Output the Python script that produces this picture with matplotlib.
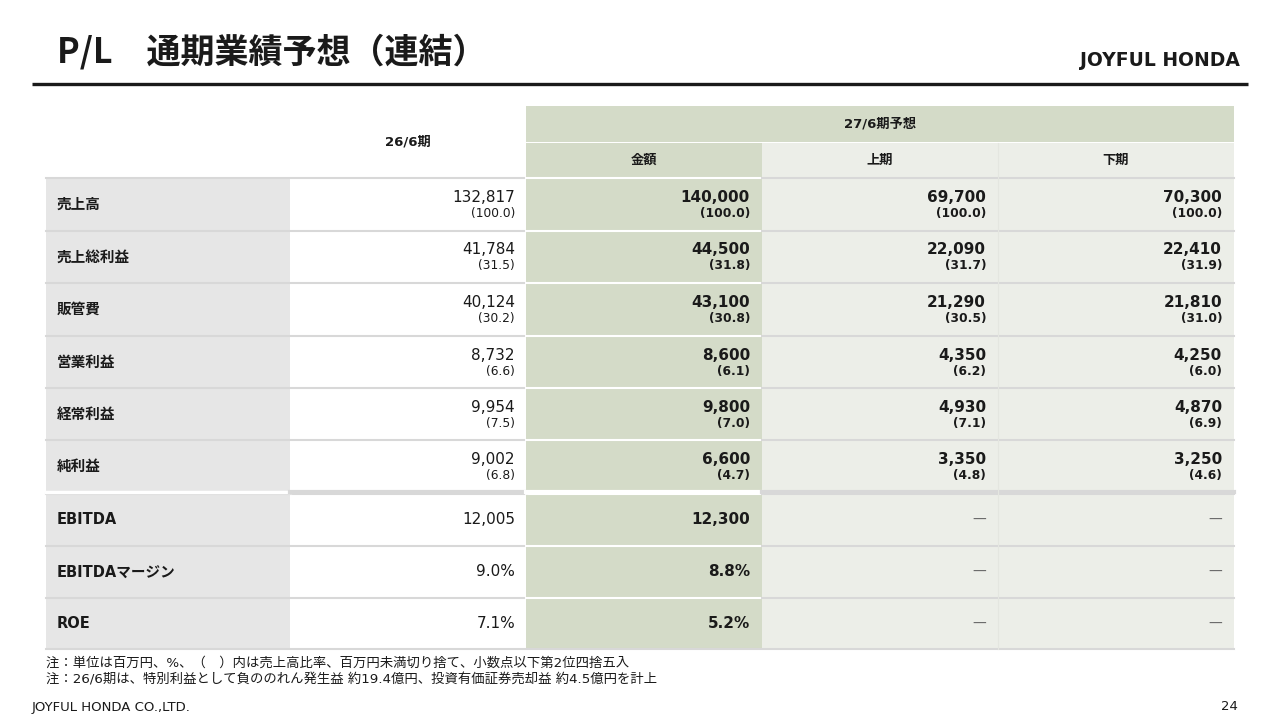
import matplotlib
matplotlib.use('Agg')
from matplotlib import pyplot as plt
from matplotlib.patches import Rectangle

plt.rcParams['font.family'] = ['DejaVu Sans', 'Noto Sans CJK JP']

# table data
labels = ['売上高', '売上総利益', '販管費', '営業利益', '経常利益', '純利益',
          'EBITDA', 'EBITDAマージン', 'ROE']
prev_val = ['132,817', '41,784', '40,124', '8,732', '9,954', '9,002', '12,005', '9.0%', '7.1%']
prev_pct = ['100.0', '31.5', '30.2', '6.6', '7.5', '6.8']
plan_val = ['140,000', '44,500', '43,100', '8,600', '9,800', '6,600', '12,300', '8.8%', '5.2%']
plan_pct = ['100.0', '31.8', '30.8', '6.1', '7.0', '4.7']
h1_val = ['69,700', '22,090', '21,290', '4,350', '4,930', '3,350', '—', '—', '—']
h1_pct = ['100.0', '31.7', '30.5', '6.2', '7.1', '4.8']
h2_val = ['70,300', '22,410', '21,810', '4,250', '4,870', '3,250', '—', '—', '—']
h2_pct = ['100.0', '31.9', '31.0', '6.0', '6.9', '4.6']

head_prev = '26/6期'
head_plan = '27/6期予想'
sub_heads = ['金額', '上期', '下期']

notes = ['注：単位は百万円、%、（　）内は売上高比率、百万円未満切り捨て、小数点以下第2位四捨五入',
         '注：26/6期は、特別利益として負ののれん発生益 約19.4億円、投資有価証券売却益 約4.5億円を計上']

# colours
c_label = '#e6e6e6'
c_green = '#d4dbc8'
c_light = '#eceee8'
c_line = '#d8d8d8'
c_text = '#1a1a1a'

fig = plt.figure(figsize=(12.8, 7.2), dpi=100)
ax = fig.add_axes([0, 0, 1, 1])
ax.set_xlim(0, 1280)
ax.set_ylim(720, 0)
ax.axis('off')

# title and header bar
ax.text(57, 52, 'P/L　通期業績予想（連結）', fontsize=24.5, fontweight='bold',
        family=['Noto Sans CJK JP'], va='center', ha='left', color=c_text)
ax.text(1240, 61, 'JOYFUL HONDA', fontsize=13.5, fontweight='heavy',
        family=['DejaVu Sans'], va='center', ha='right', color=c_text)
ax.plot([32, 1248], [84, 84], color='#1a1a1a', lw=2.4, solid_capstyle='butt')

# column edges
cols = [46, 290, 526, 762, 998, 1234]
right_x = [515, 750, 986, 1222]

# header cells
ax.add_patch(Rectangle((cols[2], 106), cols[5] - cols[2], 36, color=c_green, lw=0))
ax.add_patch(Rectangle((cols[2], 143), cols[3] - cols[2], 35, color=c_green, lw=0))
ax.add_patch(Rectangle((cols[3], 143), cols[5] - cols[3], 35, color=c_light, lw=0))
ax.text((cols[1] + cols[2]) / 2, 142, head_prev, fontsize=9.5, fontweight='bold',
        ha='center', va='center', color=c_text)
ax.text((cols[2] + cols[5]) / 2, 124, head_plan, fontsize=9.5, fontweight='bold',
        ha='center', va='center', color=c_text)
for i, h in enumerate(sub_heads):
    ax.text((cols[i + 2] + cols[i + 3]) / 2, 160, h, fontsize=9.5, fontweight='bold',
            ha='center', va='center', color=c_text)

# row edges
row_top = [178, 231, 283, 336, 388, 440, 494, 546, 598]
row_h = [53, 52, 53, 52, 52, 52, 52, 52, 51]

for r, lab in enumerate(labels):
    y0 = row_top[r]
    h = row_h[r]
    yc = y0 + h / 2
    ax.add_patch(Rectangle((cols[0], y0), cols[1] - cols[0], h, color=c_label, lw=0))
    ax.add_patch(Rectangle((cols[2], y0), cols[3] - cols[2], h, color=c_green, lw=0))
    ax.add_patch(Rectangle((cols[3], y0), cols[5] - cols[3], h, color=c_light, lw=0))
    # row separator lines
    ax.plot([cols[0], cols[2]], [y0, y0], color=c_line, lw=1.5)
    ax.plot([cols[2], cols[3]], [y0, y0], color='white', lw=1.5)
    ax.plot([cols[3], cols[5]], [y0, y0], color=c_line, lw=1.5)

    ax.text(57, yc, lab, fontsize=10.5, fontweight='bold', ha='left', va='center', color=c_text)

    vals = [prev_val[r], plan_val[r], h1_val[r], h2_val[r]]
    if r < 6:
        pcts = [prev_pct[r], plan_pct[r], h1_pct[r], h2_pct[r]]
        for k in range(4):
            w = 'normal' if k == 0 else 'bold'
            ax.text(right_x[k], yc - 7, vals[k], fontsize=11, fontweight=w,
                    ha='right', va='center', color=c_text)
            ax.text(right_x[k], yc + 9, '(' + pcts[k] + ')', fontsize=8.8, fontweight=w,
                    ha='right', va='center', color=c_text)
    else:
        for k in range(4):
            if vals[k] == '—':
                ax.text(right_x[k], yc, vals[k], fontsize=10, ha='right', va='center',
                        color='#666666')
            else:
                w = 'normal' if k == 0 else 'bold'
                ax.text(right_x[k], yc, vals[k], fontsize=11, fontweight=w,
                        ha='right', va='center', color=c_text)

# thicker separator between P/L rows and indicator rows
ax.plot([cols[0], cols[1]], [492, 492], color='white', lw=2.5)
ax.plot([cols[1], cols[2]], [492, 492], color=c_line, lw=3)
ax.plot([cols[2], cols[3]], [492, 492], color='white', lw=3)
ax.plot([cols[3], cols[5]], [492, 492], color=c_line, lw=3)
# bottom line and faint vertical between halves
ax.plot([cols[0], cols[5]], [649, 649], color=c_line, lw=1.5)
ax.plot([cols[4], cols[4]], [143, 649], color='#e4e6e0', lw=0.8)

# notes and footer
ax.text(46, 663, notes[0], fontsize=9.6, ha='left', va='center', color=c_text)
ax.text(46, 680, notes[1], fontsize=9.6, ha='left', va='center', color=c_text)
ax.text(32, 707, 'JOYFUL HONDA CO.,LTD.', fontsize=9.5, ha='left', va='center', color=c_text)
ax.text(1238, 707, '24', fontsize=9.5, ha='right', va='center', color=c_text)

fig.savefig('out.png', dpi=100)
